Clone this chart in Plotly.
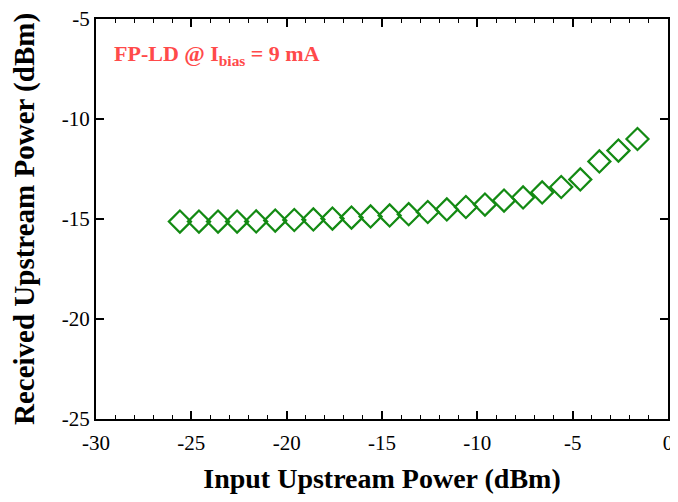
import plotly.graph_objects as go

input_power = [-25.6, -24.6, -23.6, -22.6, -21.6, -20.6, -19.6, -18.6, -17.6, -16.6,
               -15.6, -14.6, -13.6, -12.6, -11.6, -10.6, -9.6, -8.6, -7.6, -6.6,
               -5.6, -4.6, -3.6, -2.6, -1.6]
received_power = [-15.13, -15.13, -15.13, -15.13, -15.12, -15.08, -15.05, -15.02, -14.98, -14.93,
                  -14.87, -14.82, -14.76, -14.65, -14.52, -14.40, -14.28, -14.08, -13.92, -13.67,
                  -13.40, -13.02, -12.12, -11.58, -11.00]
x_ticks = [-30, -25, -20, -15, -10, -5, 0]
y_ticks = [-25, -20, -15, -10, -5]

fig = go.Figure()
fig.add_trace(go.Scatter(
    x=input_power, y=received_power, mode="markers",
    marker=dict(symbol="diamond-open", size=17, color="#138a13", line=dict(width=2.2, color="#138a13")),
    showlegend=False,
))

font = "Liberation Serif, Times New Roman, serif"
# the page body adds an 8px margin; size the figure so the page fits the 678x502 window
fig.update_layout(
    width=662, height=486,
    margin=dict(l=88, r=2, t=11, b=75),
    paper_bgcolor="white", plot_bgcolor="white",
    font=dict(family=font, color="black"),
    xaxis=dict(
        range=[-30, 0], tickvals=x_ticks, ticktext=[str(v) for v in x_ticks],
        showgrid=False, zeroline=False, showline=True, linecolor="black", linewidth=2,
        mirror="ticks", ticks="inside", ticklen=8, tickwidth=1.5, tickcolor="black",
        minor=dict(dtick=1, ticks="inside", ticklen=4, tickwidth=1, tickcolor="black"),
        tickfont=dict(size=21, family=font), ticklabeloverflow="allow", ticklabelstandoff=4,
        automargin=False,
        title=dict(text="<b>Input Upstream Power (dBm)</b>", font=dict(size=28, family=font), standoff=30),
    ),
    yaxis=dict(
        range=[-25, -5], tickvals=y_ticks, ticktext=[str(v) for v in y_ticks],
        showgrid=False, zeroline=False, showline=True, linecolor="black", linewidth=2,
        mirror="ticks", ticks="inside", ticklen=8, tickwidth=1.5, tickcolor="black",
        tickfont=dict(size=21, family=font), ticklabeloverflow="allow", automargin=False,
        title=dict(text="<b>Received Upstream Power (dBm)</b>", font=dict(size=29, family=font), standoff=22),
    ),
)
fig.add_annotation(
    x=0.028, y=0.91, xref="paper", yref="paper", xanchor="left", yanchor="middle",
    text="<b>FP-LD @ I<sub>bias</sub> = 9 mA</b>", showarrow=False,
    font=dict(size=22, color="#ff4a4a", family=font),
)
fig.write_html("out.html")
